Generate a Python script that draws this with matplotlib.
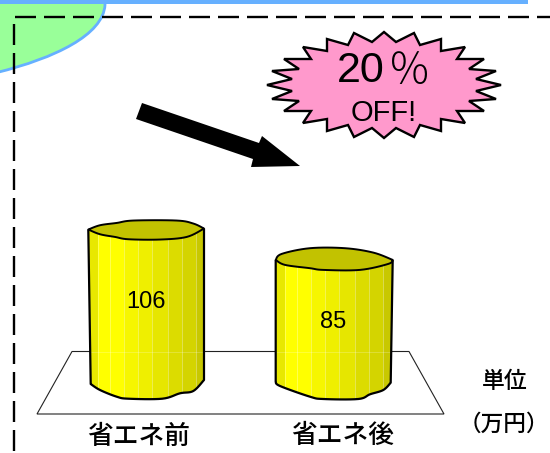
import matplotlib
matplotlib.use('Agg')
import matplotlib.pyplot as plt
import numpy as np
from matplotlib.patches import Polygon, PathPatch, Rectangle
from matplotlib.path import Path

plt.rcParams['font.family'] = ['Liberation Sans', 'Noto Sans CJK JP', 'DejaVu Sans']
CJK = ['Noto Sans CJK JP']

# data
categories = ['省エネ前', '省エネ後']
values = [106, 85]
unit_lines = ['単位', '（万円）']
badge_lines = ['20', '％', 'OFF!']

# cylinder layout, pixels
centers = [147, 334]
base_y = 383
px_per_unit = 1.46
label_dy = [-3.5, 1]

# hand traced outlines of the two wobbly cylinders (dx, dy from centre)
top_back = [
    [(-58.7, 1.3), (-47, -3), (-30.3, -5.3), (-13.7, -7.7), (29.7, -7.7), (46.3, -4.7), (57, 0.3)],
    [(-58.3, 1), (-52.3, -5), (-24, -10.7), (11, -10.7), (39.3, -6.3), (58.7, 1)],
]
top_front = [
    [(-47, 6), (-32, 8.7), (-18.7, 11), (13, 11.3), (39.7, 8.7)],
    [(-49, 6), (-24, 9.3), (-10.7, 11), (26, 11), (54.3, 5)],
]
bottom = [
    [(-56.3, 1), (-47, 7), (-30.3, 13.7), (-18.7, 15.7), (15.3, 15.7), (33, 10.3), (46.3, 8), (57, -3)],
    [(-58.3, -1.3), (-54, 3), (-24, 13.7), (-10.7, 16), (24.3, 16), (36, 11.3), (49.3, 7), (56.7, -0.3)],
]
facet_edges = [-60, -49, -37, -23, -9, 5, 21, 35, 49, 60]
facet_colors = ['#e8e800', '#ffff00', '#ffff00', '#f6f600', '#efef00',
                '#e6e600', '#dcdc00', '#d4d400', '#c8c800']

# starburst tips and notches, offsets of one quadrant from its centre
star_center = (384, 85)
star_tips = [(0, -53), (30, -52), (57, -46), (81, -38), (100, -26), (112, -14), (117, 0)]
star_notches = [(12, -43), (36, -40), (57, -34), (73, -26), (85, -16), (92, -6)]


def smooth(points, n=8):
    """catmull-rom through the traced points, so outlines do not look faceted"""
    pts = np.array(points, dtype=float)
    pts = np.vstack([pts[0], pts, pts[-1]])
    out = []
    for k in range(1, len(pts) - 2):
        p0, p1, p2, p3 = pts[k - 1], pts[k], pts[k + 1], pts[k + 2]
        for t in np.linspace(0, 1, n, endpoint=False):
            out.append(0.5 * (2 * p1 + (p2 - p0) * t + (2 * p0 - 5 * p1 + 4 * p2 - p3) * t ** 2
                              + (3 * p1 - p0 - 3 * p2 + p3) * t ** 3))
    out.append(pts[-2])
    return [tuple(p) for p in out]


fig = plt.figure(figsize=(5.5, 4.53), dpi=100)
ax = fig.add_axes([0, 0, 1, 1])
ax.set_xlim(0, 550)
ax.set_ylim(453, 0)
ax.axis('off')

# corner decoration
green = Path([(-3, -3), (105, -3), (105, 5), (103, 35), (55, 58), (-3, 72.5), (-3, 72.5)],
             [Path.MOVETO, Path.LINETO, Path.LINETO, Path.CURVE4, Path.CURVE4, Path.CURVE4, Path.LINETO])
ax.add_patch(PathPatch(green, facecolor='#99ff99', edgecolor='#66b0ff', lw=2.0, zorder=1))
ax.add_patch(Rectangle((0, 0), 528, 4, facecolor='#66b0ff', edgecolor='none', zorder=2))

# dashed frame
frame_lw = 1.7
dash = (0, (21 * 0.72 / frame_lw, 8 * 0.72 / frame_lw))
ax.plot([15, 550], [17, 17], color='black', lw=frame_lw, ls=dash, dash_capstyle='butt', zorder=3)
ax.plot([13.7, 13.7], [24, 453], color='black', lw=frame_lw, ls=dash, dash_capstyle='butt', zorder=3)

# floor
floor = [(37, 414), (72, 351.5), (409, 351.5), (444, 414)]
ax.add_patch(Polygon(floor, closed=True, facecolor='white', edgecolor='#222222', lw=0.8, zorder=2))

# cylinders
for i, value in enumerate(values):
    cx = centers[i]
    top_y = base_y - value * px_per_unit
    back = smooth([(cx + dx, top_y + dy) for dx, dy in top_back[i]])
    front_raw = [(cx + dx, top_y + dy) for dx, dy in top_front[i]]
    front = smooth([back[0]] + front_raw + [back[-1]])
    low = smooth([(cx + dx, base_y + dy) for dx, dy in bottom[i]])

    body = Polygon(front + low[::-1], closed=True, facecolor='none', edgecolor='none', zorder=4)
    ax.add_patch(body)
    for j, color in enumerate(facet_colors):
        strip = Rectangle((cx + facet_edges[j], top_y - 20), facet_edges[j + 1] - facet_edges[j],
                          value * px_per_unit + 50, facecolor=color, edgecolor='none', zorder=4)
        ax.add_patch(strip)
        strip.set_clip_path(body)
        if j > 0:
            seam, = ax.plot([cx + facet_edges[j]] * 2, [top_y, base_y + 20], color='white',
                            lw=0.5, alpha=0.45, zorder=4.1)
            seam.set_clip_path(body)
    through, = ax.plot([cx - 60, cx + 60], [351.5, 351.5], color='#ffffff', lw=0.5, alpha=0.3, zorder=4.1)
    through.set_clip_path(body)

    ax.add_patch(Polygon(back + front[::-1], closed=True, facecolor='#c2c200', edgecolor='black',
                         lw=1.4, joinstyle='round', zorder=5))
    ax.add_patch(Polygon([back[0]] + low + [back[-1]], closed=False, facecolor='none', edgecolor='black',
                         lw=1.6, joinstyle='round', zorder=5))
    ax.text(cx - 1, (top_y + base_y) / 2 + label_dy[i], str(value),
            fontsize=17, ha='center', va='center', color='black', zorder=6)

# category labels
ax.text(139, 436, categories[0], fontsize=18.5, ha='center', va='center', family=CJK, weight='medium', zorder=6)
ax.text(343, 435, categories[1], fontsize=18.5, ha='center', va='center', family=CJK, weight='medium', zorder=6)

# unit
ax.text(505, 381, unit_lines[0], fontsize=16.5, ha='center', va='center', family=CJK, weight='medium', zorder=6)
ax.text(503.5, 424, unit_lines[1], fontsize=16.3, ha='center', va='center', family=CJK, weight='medium', zorder=6)

# arrow
arrow = [(142, 103), (259, 143), (262, 136), (300, 166), (251, 167), (253, 159), (136, 119)]
ax.add_patch(Polygon(arrow, closed=True, facecolor='black', edgecolor='none', zorder=6))

# starburst
right_top = []
for k in range(len(star_notches)):
    right_top += [star_tips[k], star_notches[k]]
right_top.append(star_tips[-1])
right_low = [(x, -y) for x, y in right_top[-2::-1]]
right = right_top + right_low
left = [(-x, y) for x, y in right[-2:0:-1]]
star = [(star_center[0] + x, star_center[1] + y) for x, y in right + left]
ax.add_patch(Polygon(star, closed=True, facecolor='#ff99cc', edgecolor='black', lw=1.7,
                     joinstyle='miter', zorder=6))
ax.text(361, 71, badge_lines[0], fontsize=31, ha='center', va='center', zorder=7)
ax.text(409, 71, badge_lines[1], fontsize=31, ha='center', va='center', family=CJK, weight='light', zorder=7)
ax.text(384, 113, badge_lines[2], fontsize=21, ha='center', va='center', zorder=7)

fig.savefig('out.png', dpi=100)
